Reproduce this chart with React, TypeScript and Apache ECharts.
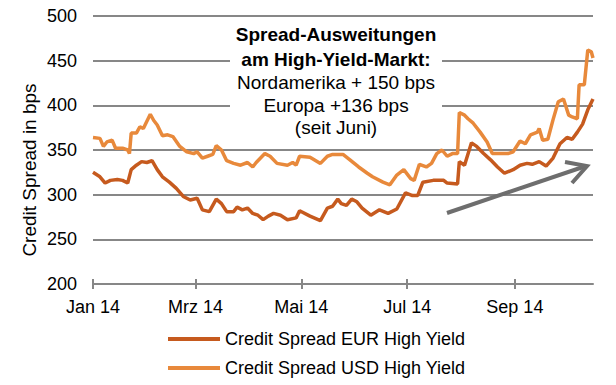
import React, { useEffect, useRef } from "react";
import * as echarts from "echarts";

const tickDates = ["2014-01-01", "2014-03-01", "2014-05-01", "2014-07-01", "2014-09-01"];
const tickLabels = ["Jan 14", "Mrz 14", "Mai 14", "Jul 14", "Sep 14"];
const axisEndDate = "2014-10-16";

const eurDates = [
  "2014-01-01","2014-01-05","2014-01-08","2014-01-11","2014-01-15","2014-01-18","2014-01-21","2014-01-23",
  "2014-01-26","2014-01-29","2014-02-01","2014-02-04","2014-02-07","2014-02-10","2014-02-14","2014-02-18",
  "2014-02-22","2014-02-26","2014-03-02","2014-03-05","2014-03-09","2014-03-13","2014-03-16","2014-03-19",
  "2014-03-23","2014-03-25","2014-03-28","2014-03-31","2014-04-03","2014-04-06","2014-04-09","2014-04-12",
  "2014-04-15","2014-04-19","2014-04-23","2014-04-28","2014-04-30","2014-05-06","2014-05-12","2014-05-16",
  "2014-05-19","2014-05-22","2014-05-24","2014-05-27","2014-05-30","2014-06-02","2014-06-05","2014-06-10",
  "2014-06-15","2014-06-20","2014-06-25","2014-06-30","2014-07-04","2014-07-07","2014-07-10","2014-07-16",
  "2014-07-22","2014-07-24","2014-07-30","2014-07-31","2014-08-03","2014-08-07","2014-08-10","2014-08-14",
  "2014-08-18","2014-08-22","2014-08-26","2014-08-31","2014-09-04","2014-09-08","2014-09-11","2014-09-15",
  "2014-09-19","2014-09-23","2014-09-27","2014-10-01","2014-10-04","2014-10-07","2014-10-10","2014-10-13",
  "2014-10-16"
];
const eurValues = [
  325, 320, 313, 316, 317, 316, 313, 328,
  333, 337, 336, 338, 328, 320, 314, 307,
  298, 294, 296, 283, 281, 295, 290, 281,
  281, 286, 283, 285, 279, 277, 272, 276,
  279, 277, 272, 274, 282, 276, 271, 285,
  287, 295, 290, 288, 295, 292, 285, 277,
  283, 279, 284, 302, 299, 299, 314, 316,
  316, 313, 312, 337, 333, 358, 354, 346,
  339, 331, 324, 328, 333, 335, 334, 337,
  332, 341, 357, 364, 362, 370, 379, 395,
  407
];

const usdDates = [
  "2014-01-01","2014-01-05","2014-01-07","2014-01-09","2014-01-12","2014-01-14","2014-01-18","2014-01-21",
  "2014-01-22","2014-01-23","2014-01-26","2014-01-28","2014-01-30","2014-02-03","2014-02-05","2014-02-07",
  "2014-02-10","2014-02-13","2014-02-16","2014-02-20","2014-02-24","2014-02-28","2014-03-02","2014-03-05",
  "2014-03-08","2014-03-11","2014-03-13","2014-03-16","2014-03-19","2014-03-23","2014-03-27","2014-03-31",
  "2014-04-03","2014-04-05","2014-04-10","2014-04-13","2014-04-17","2014-04-23","2014-04-26","2014-04-28",
  "2014-04-30","2014-05-06","2014-05-12","2014-05-16","2014-05-19","2014-05-25","2014-05-29","2014-06-03",
  "2014-06-08","2014-06-11","2014-06-17","2014-06-21","2014-06-25","2014-06-29","2014-07-03","2014-07-05",
  "2014-07-08","2014-07-12","2014-07-15","2014-07-18","2014-07-21","2014-07-24","2014-07-27","2014-07-30",
  "2014-07-31","2014-08-03","2014-08-05","2014-08-08","2014-08-12","2014-08-16","2014-08-19","2014-08-23",
  "2014-08-28","2014-08-31","2014-09-04","2014-09-07","2014-09-10","2014-09-14","2014-09-15","2014-09-17",
  "2014-09-20","2014-09-23","2014-09-26","2014-09-29","2014-10-02","2014-10-04","2014-10-07","2014-10-08",
  "2014-10-11","2014-10-13","2014-10-15","2014-10-16"
];
const usdValues = [
  364, 363, 354, 359, 361, 352, 352, 350,
  346, 369, 369, 376, 374, 390, 383, 378,
  366, 367, 365, 354, 348, 346, 348, 341,
  343, 345, 355, 350, 338, 335, 333, 336,
  331, 336, 346, 343, 335, 333, 336, 333,
  343, 342, 335, 343, 345, 345, 339, 331,
  324, 320, 314, 311, 322, 328, 318, 316,
  334, 331, 335, 346, 350, 343, 346, 346,
  392, 389, 385, 380, 370, 359, 346, 346,
  346, 348, 360, 357, 367, 370, 374, 361,
  362, 384, 404, 407, 389, 387, 385, 423,
  423, 462, 460, 453
];

const annotationLines = [
  "Spread-Ausweitungen",
  "am High-Yield-Markt:",
  "Nordamerika + 150 bps",
  "Europa +136 bps",
  "(seit Juni)"
];

const seriesNames = ["Credit Spread EUR High Yield", "Credit Spread USD High Yield"];
const yAxisTitle = "Credit Spread in bps";

const toDay = (s: string) => {
  const [y, m, d] = s.split("-").map(Number);
  return (Date.UTC(y, m - 1, d) - Date.UTC(2014, 0, 1)) / 86400000;
};

const FONT = "'Liberation Sans', Arial, sans-serif";
const GRID_COLOR = "#878787";

export default function App() {
  const ref = useRef<HTMLDivElement>(null);

  useEffect(() => {
    document.body.style.margin = "0";
    if (!ref.current) return;
    const chart = echarts.init(ref.current, null, { renderer: "svg" });

    const tickDays = tickDates.map(toDay);
    const labelFor = (v: number) => {
      const i = tickDays.indexOf(Math.round(v));
      return i >= 0 ? tickLabels[i] : "";
    };

    const eurData = eurDates.map((d, i) => [toDay(d), eurValues[i]]);
    const usdData = usdDates.map((d, i) => [toDay(d), usdValues[i]]);

    const fonts = [
      { weight: "bold", y: 34 },
      { weight: "bold", y: 59 },
      { weight: "normal", y: 82 },
      { weight: "normal", y: 105 },
      { weight: "normal", y: 127 }
    ];

    const commonX = {
      type: "value",
      min: 0,
      max: toDay(axisEndDate),
      position: "bottom",
      splitLine: { show: false }
    };

    chart.setOption({
      animation: false,
      textStyle: { fontFamily: FONT },
      grid: { left: 93, right: 23, top: 16, bottom: 101, containLabel: false },
      legend: {
        orient: "vertical",
        left: 163,
        top: 325,
        itemWidth: 52,
        itemHeight: 4,
        itemGap: 11,
        icon: "rect",
        textStyle: { fontSize: 18, color: "#000", fontFamily: FONT },
        data: seriesNames
      },
      xAxis: [
        {
          ...commonX,
          axisLine: { show: true, lineStyle: { color: GRID_COLOR, width: 2 } },
          axisTick: { show: true, length: 5, lineStyle: { color: GRID_COLOR, width: 2 }, customValues: tickDays },
          axisLabel: {
            show: true,
            customValues: tickDays,
            formatter: labelFor,
            fontSize: 18,
            color: "#000",
            margin: 14,
            fontFamily: FONT
          }
        },
        {
          ...commonX,
          axisLine: { show: false },
          axisTick: { show: true, inside: true, length: 5, lineStyle: { color: GRID_COLOR, width: 2 }, customValues: tickDays },
          axisLabel: { show: false }
        }
      ],
      yAxis: {
        type: "value",
        min: 200,
        max: 500,
        interval: 50,
        axisLine: { show: false },
        axisTick: { show: false },
        axisLabel: { fontSize: 18, color: "#000", margin: 16, fontFamily: FONT },
        splitLine: { lineStyle: { color: GRID_COLOR, width: 2 } }
      },
      series: [
        {
          name: seriesNames[0],
          type: "line",
          data: eurData,
          showSymbol: false,
          symbol: "none",
          lineStyle: { color: "#c65a1e", width: 3.5 },
          itemStyle: { color: "#c65a1e" },
          z: 3
        },
        {
          name: seriesNames[1],
          type: "line",
          data: usdData,
          showSymbol: false,
          symbol: "none",
          lineStyle: { color: "#e8893b", width: 3.5 },
          itemStyle: { color: "#e8893b" },
          z: 2
        }
      ],
      graphic: [
        {
          type: "text",
          x: 29,
          y: 170,
          rotation: Math.PI / 2,
          style: {
            text: yAxisTitle,
            fill: "#000",
            font: `normal 19px ${FONT}`,
            align: "center",
            verticalAlign: "middle"
          }
        },
        {
          type: "rect",
          shape: { x: 230, y: 22, width: 212, height: 118 },
          style: { fill: "#fff" },
          z: 10
        },
        ...annotationLines.map((t, i) => ({
          type: "text",
          x: 336,
          y: fonts[i].y,
          z: 11,
          style: {
            text: t,
            fill: "#000",
            font: `${fonts[i].weight} 19px ${FONT}`,
            align: "center",
            verticalAlign: "middle"
          }
        })),
        {
          type: "line",
          shape: { x1: 447, y1: 213, x2: 586, y2: 166 },
          style: { stroke: "#6e6e6e", lineWidth: 4, lineCap: "butt" },
          z: 10
        },
        {
          type: "polyline",
          shape: { points: [[565, 162], [587, 166], [572, 183]] },
          style: { stroke: "#6e6e6e", lineWidth: 4, fill: "none" },
          z: 10
        }
      ]
    });

    return () => chart.dispose();
  }, []);

  return <div ref={ref} style={{ width: 616, height: 385 }} />;
}
